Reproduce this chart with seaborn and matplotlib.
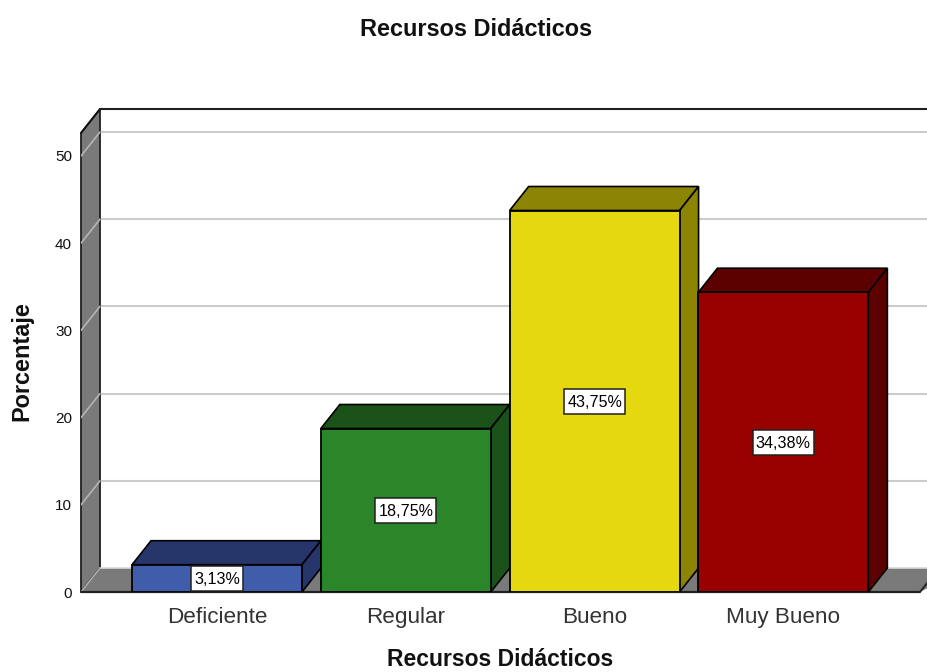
import matplotlib
matplotlib.use("Agg")
import matplotlib.pyplot as plt
from matplotlib.patches import Polygon, Rectangle
import pandas as pd
import seaborn as sns

categories = ["Deficiente", "Regular", "Bueno", "Muy Bueno"]
percentages = [3.13, 18.75, 43.75, 34.38]
labels = ["3,13%", "18,75%", "43,75%", "34,38%"]
front_colors = ["#3f5dab", "#2a8629", "#e5d80f", "#990000"]
dark_colors = ["#26366b", "#1b5219", "#8c8405", "#5c0000"]
y_ticks = [0, 10, 20, 30, 40, 50]

W, H = 928, 672
sns.set_theme(style="white")
plt.rcParams["font.family"] = ["Liberation Sans", "DejaVu Sans"]

fig = plt.figure(figsize=(W / 100, H / 100), dpi=100, facecolor="white")
left, right, top, bottom = 81, 928, 109, 592
ax = fig.add_axes([left / W, 1 - bottom / H, (right - left) / W, (bottom - top) / H])

px_per_cat = 188.8
px_per_unit = 8.72
DX = 19 / px_per_cat
DY = 24 / px_per_unit

df = pd.DataFrame({"cat": categories, "pct": percentages})
sns.barplot(data=df, x="cat", y="pct", hue="cat", palette=front_colors, legend=False,
            width=0.9, saturation=1, edgecolor="black", linewidth=1.3, ax=ax, zorder=6)
ax.set_xlim((left - 217) / px_per_cat, (right - 217) / px_per_cat)
ax.set_ylim(0, (bottom - top) / px_per_unit)
x0, x1 = ax.get_xlim()
wall_top = ax.get_ylim()[1] - DY

GREY = "#7a7a7a"
# back-wall gridlines
for t in y_ticks[1:]:
    ax.plot([x0 + DX, x1 + DX], [t + DY, t + DY], color="#cbcbcb", lw=1.5, zorder=2, clip_on=False)
# side wall and floor
ax.add_patch(Polygon([(x0, 0), (x0 + DX, DY), (x0 + DX, wall_top + DY), (x0, wall_top)],
                     closed=True, fc=GREY, ec="#202020", lw=1.3, zorder=3, clip_on=False))
ax.add_patch(Polygon([(x0, 0), (x0 + DX, DY), (x1 + 2 * DX, DY), (x1 - 8 / px_per_cat, 0)],
                     closed=True, fc=GREY, ec="none", zorder=3))
ax.plot([x0 + DX, x1], [DY, DY], color="#d8d8d8", lw=1.2, zorder=3)
for t in y_ticks[1:]:
    ax.plot([x0, x0 + DX], [t, t + DY], color="#b5b5b5", lw=1.2, zorder=4)
ax.plot([x0, x0 + DX], [0, DY], color="#b5b5b5", lw=1.0, zorder=4)
ax.plot([x0, x0 + DX], [wall_top, wall_top + DY], color="#101010", lw=1.3, zorder=4, clip_on=False)
ax.plot([x0, x1 - 8 / px_per_cat], [0, 0], color="#202020", lw=1.6, zorder=5, clip_on=False)
ax.plot([x1 - 8 / px_per_cat, x1], [0, 8 / 19 * DY], color="#202020", lw=1.3, zorder=5)
ax.plot([x0 + DX, x1], [wall_top + DY] * 2, color="#202020", lw=1.5, zorder=4, clip_on=False)

# extruded bar tops and sides, value boxes
renderer = fig.canvas.get_renderer()
for i, v in enumerate(percentages):
    a, b = i - 0.45, i + 0.45
    ax.add_patch(Polygon([(a, v), (a + DX, v + DY), (b + DX, v + DY), (b, v)], closed=True,
                         fc=dark_colors[i], ec="black", lw=1.2, zorder=5))
    ax.add_patch(Polygon([(b, 0), (b + DX, DY), (b + DX, v + DY), (b, v)], closed=True,
                         fc=dark_colors[i], ec="black", lw=1.2, zorder=5))
    txt = ax.text(i, v / 2, labels[i], ha="center", va="center_baseline", fontsize=11.6,
                  color="black", zorder=9)
    half_w = (txt.get_window_extent(renderer).width / 2 + 3) / px_per_cat
    half_h = 12.5 / px_per_unit
    y_low = max(v / 2 - half_h, 0)
    ax.add_patch(Rectangle((i - half_w, y_low), 2 * half_w, v / 2 + half_h - y_low,
                           fc="white", ec="#202020", lw=1.1, zorder=8))

sns.despine(ax=ax, left=True, bottom=True, top=True, right=True)
ax.patch.set_alpha(0)
ax.grid(False)
ax.set_yticks(y_ticks)
ax.tick_params(axis="y", length=0, pad=6.5, labelsize=11, labelcolor="#111111")
ax.set_xticks(range(len(categories)))
ax.set_xticklabels(categories)
ax.tick_params(axis="x", length=0, pad=10.5, labelsize=16.2, labelcolor="#333333")
ax.set_xlabel("")
ax.set_ylabel("")

fig.text(476 / W, 1 - 29 / H, "Recursos Didácticos", ha="center", va="center",
         fontsize=16.9, fontweight="bold", color="#111111")
fig.text(500 / W, 1 - 660 / H, "Recursos Didácticos", ha="center", va="center",
         fontsize=16.5, fontweight="bold", color="#111111")
fig.text(22 / W, 1 - 361 / H, "Porcentaje", ha="center", va="center", rotation=90,
         fontsize=16.9, fontweight="bold", color="#111111")

fig.savefig("out.png", dpi=100)
